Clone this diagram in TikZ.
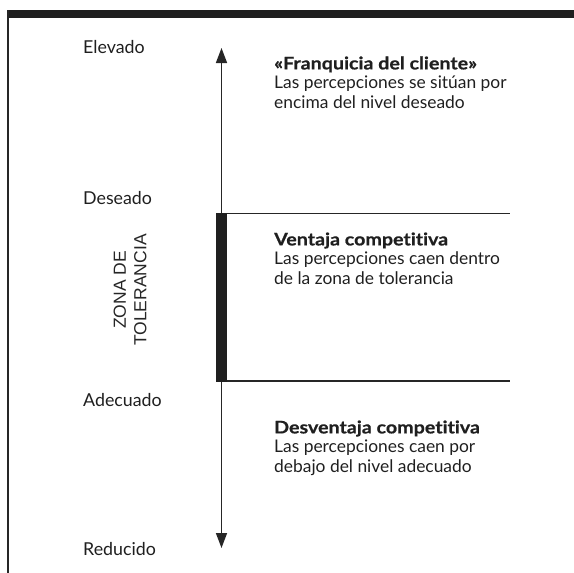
\documentclass[tikz,border=0pt]{standalone}
\usepackage{fontspec}
\setmainfont[RawFeature=-liga,BoldFeatures={FakeStretch=1.13,FakeBold=0.6}]{Lato}
\newfontfamily\zonafont{Liberation Sans}
\usetikzlibrary{arrows.meta}
\begin{document}
\begin{tikzpicture}[x=1pt,y=-1pt,
  lbl/.style={anchor=base west,inner sep=0pt,font=\fontsize{17.8}{19}\selectfont,text=black!88},
  txt/.style={anchor=base west,inner sep=0pt,align=left,font=\fontsize{17.4}{19.3}\selectfont,text=black!88},
  rule/.style={line width=1.4pt,black!85}]
\useasboundingbox (0,0) rectangle (574,573);
% frame
\fill[black!88] (7,10) rectangle (574,17.5);
\draw[line width=1.5pt,black!85] (8,10) -- (8,573);
% axis
\coordinate (top) at (221.5,48);
\coordinate (bot) at (221.5,548);
\draw[line width=1.5pt,black!85,{Triangle[width=11pt,length=15pt]}-{Triangle[width=11pt,length=15pt]}] (bot) -- (top);
% tolerance bar
\fill[black!88] (216,213) rectangle (227,381.5);
\coordinate (d1) at (227,213.5);
\coordinate (d2) at (510,213.5);
\coordinate (a1) at (227,381);
\coordinate (a2) at (510,381);
\draw[rule] (d1) -- (d2);
\draw[rule] (a1) -- (a2);
% level labels
\node[lbl] (elev) at (83,53) {Elevado};
\node[lbl] (des) at (83,204) {Deseado};
\node[lbl] (adec) at (83,406) {Adecuado};
\node[lbl] (red) at (83,555) {Reducido};
% zone label
\node[rotate=90,align=center,inner sep=0pt,text=black!85,font=\zonafont\fontsize{17.5}{20.5}\selectfont] (zona) at (130,290) {ZONA DE\\TOLERANCIA};
% text blocks
\node[txt] (franq) at (274,108) {\textbf{«Franquicia del cliente»}\\Las percepciones se sitúan por\\encima del nivel deseado};
\node[txt] (vent) at (274,284) {\textbf{Ventaja competitiva}\\Las percepciones caen dentro\\de la zona de tolerancia};
\node[txt] (desv) at (274,472) {\textbf{Desventaja competitiva}\\Las percepciones caen por\\debajo del nivel adecuado};
\end{tikzpicture}
\end{document}
